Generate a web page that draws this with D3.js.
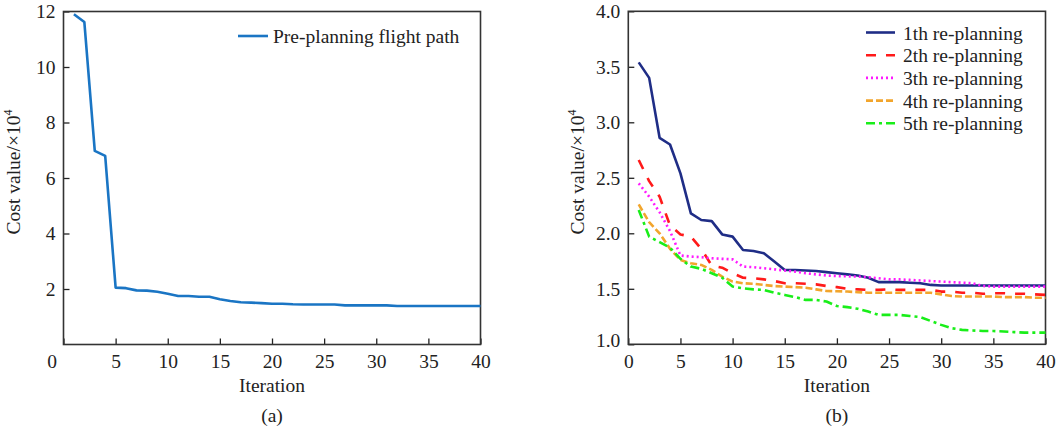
<!DOCTYPE html>
<html>
<head>
<meta charset="utf-8">
<script src="https://cdn.jsdelivr.net/npm/d3@7"></script>
<style>
  body { margin: 0; background: #fff; }
  svg text { font-family: "Liberation Serif", "Times New Roman", serif; fill: #222; }
</style>
</head>
<body>
<div id="chart"></div>
<script>
// iteration numbers (x categories)
const iterations = d3.range(1, 41);

// (a) pre-planning cost, x10^4
const prePlanning = [11.90, 11.62, 6.98, 6.80, 2.05, 2.03, 1.95, 1.94, 1.90, 1.83,
                     1.75, 1.75, 1.72, 1.72, 1.63, 1.57, 1.52, 1.51, 1.49, 1.47,
                     1.47, 1.45, 1.44, 1.44, 1.44, 1.44, 1.41, 1.41, 1.41, 1.41,
                     1.41, 1.39, 1.39, 1.39, 1.39, 1.39, 1.39, 1.39, 1.39, 1.39];

// (b) re-planning costs, x10^4
const replan1 = [3.54, 3.40, 2.86, 2.80, 2.54, 2.18, 2.12, 2.11, 1.99, 1.97,
                 1.85, 1.84, 1.82, 1.745, 1.67, 1.67, 1.665, 1.66, 1.65, 1.64,
                 1.63, 1.62, 1.60, 1.56, 1.56, 1.56, 1.555, 1.55, 1.535, 1.53,
                 1.53, 1.53, 1.53, 1.53, 1.53, 1.53, 1.53, 1.53, 1.53, 1.53];
const replan2 = [2.66, 2.47, 2.33, 2.07, 1.99, 1.97, 1.86, 1.71, 1.69, 1.64,
                 1.60, 1.595, 1.585, 1.57, 1.55, 1.55, 1.545, 1.54, 1.525, 1.515,
                 1.50, 1.495, 1.49, 1.49, 1.495, 1.49, 1.49, 1.49, 1.49, 1.475,
                 1.475, 1.465, 1.465, 1.455, 1.46, 1.46, 1.455, 1.455, 1.45, 1.445];
const replan3 = [2.45, 2.33, 2.19, 2.02, 1.80, 1.79, 1.785, 1.775, 1.77, 1.765,
                 1.70, 1.695, 1.685, 1.675, 1.665, 1.655, 1.64, 1.63, 1.62, 1.615,
                 1.612, 1.61, 1.605, 1.595, 1.585, 1.585, 1.58, 1.575, 1.57, 1.565,
                 1.56, 1.555, 1.55, 1.525, 1.52, 1.52, 1.52, 1.52, 1.52, 1.52];
const replan4 = [2.26, 2.10, 2.00, 1.86, 1.76, 1.73, 1.715, 1.67, 1.61, 1.565,
                 1.55, 1.545, 1.535, 1.525, 1.52, 1.515, 1.51, 1.495, 1.48, 1.478,
                 1.475, 1.47, 1.465, 1.465, 1.465, 1.465, 1.465, 1.465, 1.465, 1.45,
                 1.435, 1.43, 1.43, 1.43, 1.43, 1.425, 1.425, 1.425, 1.42, 1.42];
const replan5 = [2.21, 1.97, 1.92, 1.87, 1.77, 1.70, 1.68, 1.64, 1.60, 1.52,
                 1.505, 1.495, 1.49, 1.465, 1.445, 1.425, 1.40, 1.40, 1.385, 1.345,
                 1.335, 1.32, 1.295, 1.265, 1.265, 1.265, 1.255, 1.245, 1.21, 1.175,
                 1.145, 1.13, 1.125, 1.12, 1.12, 1.115, 1.11, 1.105, 1.105, 1.105];

const replanNames = ["1th re-planning", "2th re-planning", "3th re-planning", "4th re-planning", "5th re-planning"];

// tick labels
const xTicks = [0, 5, 10, 15, 20, 25, 30, 35, 40];
const yTicksA = [2, 4, 6, 8, 10, 12];
const yTicksB = [1.0, 1.5, 2.0, 2.5, 3.0, 3.5, 4.0];

const styles = [
  {color: "#1f2d86", dash: null},
  {color: "#ff1a1a", dash: "10,10"},
  {color: "#ff1aff", dash: "2,3"},
  {color: "#f2a52c", dash: "7,3"},
  {color: "#19ee19", dash: "9,4,3,4"}
];

const svg = d3.select("#chart")
  .append("svg")
  .attr("width", 1060)
  .attr("height", 434);

function panel(left, right, top, bottom, yDomain, yTicks, yFmt, caption) {
  const x = d3.scaleLinear().domain([0, 40]).range([left, right]);
  const y = d3.scaleLinear().domain(yDomain).range([bottom, top]);
  const g = svg.append("g");

  g.append("g")
    .attr("transform", `translate(0,${bottom})`)
    .call(d3.axisBottom(x).tickValues(xTicks).tickSizeInner(-6).tickSizeOuter(0).tickPadding(10))
    .call(a => a.select(".domain").remove())
    .call(a => a.selectAll("line").attr("stroke", "#222").attr("stroke-width", 1.3))
    .call(a => a.selectAll("text").attr("font-size", 19.5).attr("fill", "#222")
                .style("font-family", "Liberation Serif"));

  g.append("g")
    .attr("transform", `translate(${left},0)`)
    .call(d3.axisLeft(y).tickValues(yTicks).tickFormat(yFmt).tickSizeInner(-6).tickSizeOuter(0).tickPadding(8))
    .call(a => a.select(".domain").remove())
    .call(a => a.selectAll("line").attr("stroke", "#222").attr("stroke-width", 1.3))
    .call(a => a.selectAll("text").attr("font-size", 19.5).attr("fill", "#222")
                .style("font-family", "Liberation Serif"));

  g.append("rect")
    .attr("x", left).attr("y", top)
    .attr("width", right - left).attr("height", bottom - top)
    .attr("fill", "none")
    .attr("stroke", "#333")
    .attr("stroke-width", 1.6);

  g.append("text")
    .attr("x", (left + right) / 2).attr("y", 392)
    .attr("text-anchor", "middle")
    .attr("font-size", 19.5)
    .text("Iteration");

  g.append("text")
    .attr("x", (left + right) / 2).attr("y", 422)
    .attr("text-anchor", "middle")
    .attr("font-size", 19.5)
    .text(caption);

  const yl = g.append("text")
    .attr("transform", `translate(${left - 44},172) rotate(-90)`)
    .attr("text-anchor", "middle")
    .attr("font-size", 19.5);
  yl.append("tspan").text("Cost value/×10");
  yl.append("tspan").attr("font-size", 12).attr("dy", -8).text("4");

  return {g, x, y};
}

// (a)
const a = panel(63.5, 480.5, 11.5, 344.5, [0, 12], yTicksA, d3.format("d"), "(a)");
// origin label sits left of the corner
a.g.selectAll(".tick").filter(d => d === 0).select("text").attr("dx", -12);

const lineA = d3.line().x((d, i) => a.x(iterations[i])).y(d => a.y(d));
a.g.append("path")
  .datum(prePlanning)
  .attr("d", lineA)
  .attr("fill", "none")
  .attr("stroke", "#1a75c4")
  .attr("stroke-width", 2.6)
  .attr("stroke-linejoin", "round");

a.g.append("line")
  .attr("x1", 238).attr("x2", 268).attr("y1", 36).attr("y2", 36)
  .attr("stroke", "#1a75c4").attr("stroke-width", 2.6);
a.g.append("text")
  .attr("x", 273).attr("y", 43)
  .attr("font-size", 19.5)
  .text("Pre-planning flight path");

// (b)
const b = panel(628.3, 1045.5, 11.3, 344.3, [1, 4], yTicksB, d3.format(".1f"), "(b)");
b.g.selectAll(".tick").filter(d => d === 1).select("text").attr("dy", "0.1em");

const series = [replan1, replan2, replan3, replan4, replan5];
const lineB = d3.line().x((d, i) => b.x(iterations[i])).y(d => b.y(d));

b.g.selectAll(".series")
  .data(series)
  .enter()
  .append("path")
  .attr("class", "series")
  .attr("d", lineB)
  .attr("fill", "none")
  .attr("stroke", (d, i) => styles[i].color)
  .attr("stroke-width", 2.6)
  .attr("stroke-dasharray", (d, i) => styles[i].dash)
  .attr("stroke-linejoin", "round");

const legend = b.g.selectAll(".leg")
  .data(replanNames)
  .enter()
  .append("g")
  .attr("class", "leg")
  .attr("transform", (d, i) => `translate(866,${32.5 + i * 22.7})`);

legend.append("line")
  .attr("x1", 0).attr("x2", 29)
  .attr("stroke", (d, i) => styles[i].color)
  .attr("stroke-width", 2.6)
  .attr("stroke-dasharray", (d, i) => styles[i].dash);

legend.append("text")
  .attr("x", 37).attr("y", 7)
  .attr("font-size", 19.5)
  .text(d => d);
</script>
</body>
</html>
